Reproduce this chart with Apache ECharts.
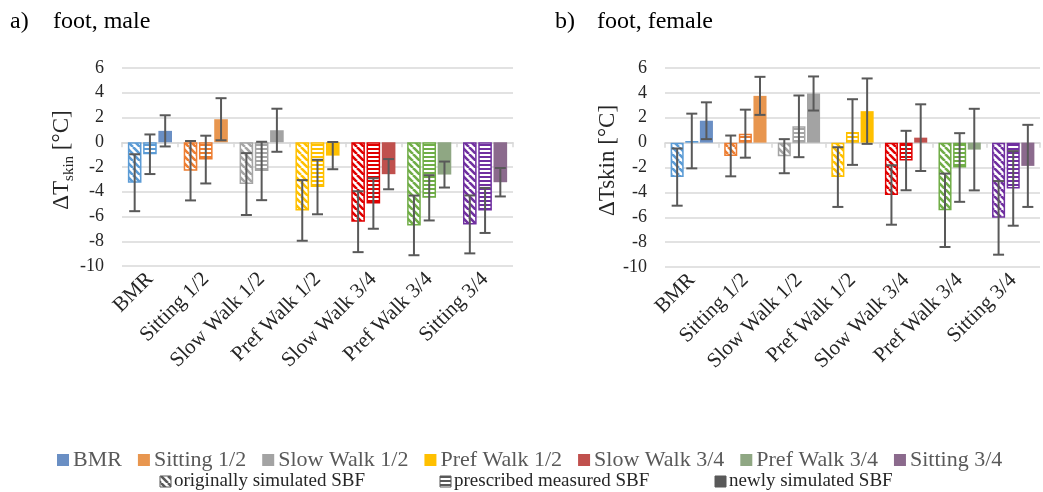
<!DOCTYPE html>
<html>
<head>
<meta charset="utf-8">
<script src="https://cdn.jsdelivr.net/npm/echarts@6/dist/echarts.min.js"></script>
<style>
  html, body { margin: 0; padding: 0; background: #fff; }
  #main { width: 1043px; height: 492px; }
</style>
</head>
<body>
<div id="main"></div>
<script>
// categories and SBF variants
var categories = ['BMR', 'Sitting 1/2', 'Slow Walk 1/2', 'Pref Walk 1/2', 'Slow Walk 3/4', 'Pref Walk 3/4', 'Sitting 3/4'];
var sbfTypes = ['originally simulated SBF', 'prescribed measured SBF', 'newly simulated SBF'];

// a) foot, male  (mean and half error)
var maleOrig = [-3.27, -2.3, -3.38, -5.51, -6.42, -6.72, -6.64];
var maleOrigErr = [2.3, 2.4, 2.5, 2.45, 2.46, 2.41, 2.34];
var malePresc = [-0.97, -1.4, -2.32, -3.62, -4.95, -4.49, -5.51];
var malePrescErr = [1.6, 1.93, 2.36, 2.2, 2.04, 1.83, 1.82];
var maleNew = [0.92, 1.86, 0.97, -1.08, -2.58, -2.61, -3.23];
var maleNewErr = [1.26, 1.7, 1.74, 1.1, 1.22, 1.05, 1.15];

// b) foot, female
var femaleOrig = [-2.77, -1.07, -1.09, -2.77, -4.21, -5.44, -6.05];
var femaleOrigErr = [2.3, 1.64, 1.37, 2.4, 2.39, 2.95, 2.96];
var femalePresc = [0.13, 0.72, 1.31, 0.85, -1.44, -2.0, -3.68];
var femalePrescErr = [2.2, 1.93, 2.48, 2.64, 2.39, 2.76, 3.0];
var femaleNew = [1.76, 3.76, 3.95, 2.53, 0.4, -0.56, -1.87];
var femaleNewErr = [1.48, 1.53, 1.37, 2.63, 2.68, 3.28, 3.3];

var stripeColors = ['#5b9bd5', '#ed7d31', '#a5a5a5', '#ffc000', '#e00000', '#70ad47', '#7030a0'];
var solidColors = ['#6a8fc4', '#e8964f', '#a3a3a3', '#ffc000', '#c0504d', '#8fa783', '#8b6a8d'];

var FONT = '"Liberation Serif", "Times New Roman", serif';
var GAP_CAT = 0.21, GAP_BAR = 0.12;

function tile(color, kind) {
    var c = document.createElement('canvas');
    var ctx;
    if (kind == 'diag') {
        c.width = 7; c.height = 7;
        ctx = c.getContext('2d');
        ctx.fillStyle = '#fff';
        ctx.fillRect(0, 0, 7, 7);
        ctx.strokeStyle = color;
        ctx.lineWidth = 2.6;
        ctx.beginPath();
        [-7, 0, 7].forEach(function (k) {
            ctx.moveTo(k, 0);
            ctx.lineTo(k + 7, 7);
        });
        ctx.stroke();
    } else {
        c.width = 4; c.height = 4;
        ctx = c.getContext('2d');
        ctx.fillStyle = '#fff';
        ctx.fillRect(0, 0, 4, 4);
        ctx.fillStyle = color;
        ctx.fillRect(0, 0, 4, 2);
    }
    return c;
}

function barData(values, kind) {
    return values.map(function (v, i) {
        if (kind == 'solid') {
            return { value: v, itemStyle: { color: solidColors[i] } };
        }
        return {
            value: v,
            itemStyle: {
                color: { image: tile(stripeColors[i], kind), repeat: 'repeat' },
                borderColor: stripeColors[i],
                borderWidth: 1.5
            }
        };
    });
}

function errData(values, errs) {
    return values.map(function (v, i) {
        return [i, v - errs[i], v + errs[i]];
    });
}

function errSeries(values, errs, slot, xi, yi) {
    return {
        type: 'custom',
        xAxisIndex: xi,
        yAxisIndex: yi,
        z: 10,
        data: errData(values, errs),
        renderItem: function (params, api) {
            var w = api.size([1, 0])[0];
            var b = w * (1 - GAP_CAT) / (3 + 2 * GAP_BAR);
            var off = (slot - 1) * b * (1 + GAP_BAR);
            var top = api.coord([api.value(0), api.value(2)]);
            var bot = api.coord([api.value(0), api.value(1)]);
            var x = top[0] + off;
            var h = 5.5;
            var st = { stroke: '#595959', lineWidth: 2 };
            return {
                type: 'group',
                children: [
                    { type: 'line', shape: { x1: x, y1: top[1], x2: x, y2: bot[1] }, style: st },
                    { type: 'line', shape: { x1: x - h, y1: top[1], x2: x + h, y2: top[1] }, style: st },
                    { type: 'line', shape: { x1: x - h, y1: bot[1], x2: x + h, y2: bot[1] }, style: st }
                ]
            };
        }
    };
}

function panelSeries(orig, origErr, presc, prescErr, nw, nwErr, xi, yi) {
    var base = { type: 'bar', xAxisIndex: xi, yAxisIndex: yi, barCategoryGap: '21%', barGap: '12%' };
    return [
        Object.assign({ name: sbfTypes[0], data: barData(orig, 'diag') }, base),
        Object.assign({ name: sbfTypes[1], data: barData(presc, 'horiz') }, base),
        Object.assign({ name: sbfTypes[2], data: barData(nw, 'solid') }, base),
        errSeries(orig, origErr, 0, xi, yi),
        errSeries(presc, prescErr, 1, xi, yi),
        errSeries(nw, nwErr, 2, xi, yi)
    ];
}

function zeroAxis(g) {
    return {
        type: 'category', gridIndex: g, data: categories,
        axisLine: { onZero: true, lineStyle: { color: '#d9d9d9', width: 1.5 } },
        axisTick: { show: true, length: 5, interval: 0, lineStyle: { color: '#d9d9d9', width: 1.5 } },
        axisLabel: { show: false },
        splitLine: { show: false }
    };
}

function labelAxis(g) {
    return {
        type: 'category', gridIndex: g, data: categories, position: 'bottom',
        axisLine: { show: false, onZero: false },
        axisTick: { show: false },
        axisLabel: { interval: 0, rotate: 45, margin: 10, fontSize: 21, color: '#262626', fontFamily: FONT }
    };
}

function valueAxis(g, name, gap) {
    return {
        type: 'value', gridIndex: g, min: -10, max: 6, interval: 2,
        name: name, nameLocation: 'middle', nameRotate: 90, nameGap: gap,
        nameTextStyle: {
            fontSize: 23, color: '#262626', fontFamily: FONT, padding: [0, 0, 0, 14],
            rich: { t: { fontSize: 23, fontFamily: FONT, color: '#262626' },
                    s: { fontSize: 15, fontFamily: FONT, color: '#262626', padding: [13, 0, 0, 0] } }
        },
        axisLine: { show: false },
        axisTick: { show: false },
        axisLabel: { fontSize: 18, color: '#262626', fontFamily: FONT, margin: 18 },
        splitLine: { lineStyle: { color: '#d9d9d9', width: 1.5 } }
    };
}

// legend built from graphic elements
function measure(text, size) {
    var ctx = document.createElement('canvas').getContext('2d');
    ctx.font = size + 'px ' + FONT;
    return ctx.measureText(text).width;
}

var graphics = [
    { type: 'text', left: 10, top: 10, style: { text: 'a)', font: '24px ' + FONT, fill: '#000' } },
    { type: 'text', left: 53, top: 10, style: { text: 'foot, male', font: '24px ' + FONT, fill: '#000' } },
    { type: 'text', left: 555, top: 10, style: { text: 'b)', font: '24px ' + FONT, fill: '#000' } },
    { type: 'text', left: 597, top: 10, style: { text: 'foot, female', font: '24px ' + FONT, fill: '#000' } }
];

var lx = 57;
categories.forEach(function (c, i) {
    graphics.push({ type: 'rect', shape: { x: lx, y: 454, width: 12, height: 12 }, style: { fill: solidColors[i] } });
    graphics.push({ type: 'text', x: lx + 16, y: 460, style: { text: c, font: '22px ' + FONT, fill: '#595959', textVerticalAlign: 'middle' } });
    lx += 16 + measure(c, 22) + 16;
});

var iconX = [160, 440, 715];
sbfTypes.forEach(function (t, i) {
    var fill = '#595959';
    if (i == 0) fill = { image: tile('#595959', 'diag'), repeat: 'repeat' };
    if (i == 1) fill = { image: tile('#595959', 'horiz'), repeat: 'repeat' };
    graphics.push({ type: 'rect', shape: { x: iconX[i], y: 476, width: 11, height: 11 }, style: { fill: fill, stroke: '#595959', lineWidth: 1 } });
    graphics.push({ type: 'text', x: iconX[i] + 14, y: 481, style: { text: t, font: '19px ' + FONT, fill: '#262626', textVerticalAlign: 'middle' } });
});

var chart = echarts.init(document.getElementById('main'));

var option = {
    animation: false,
    grid: [
        { left: 122, top: 68, width: 391, height: 198 },
        { left: 665, top: 68, width: 375, height: 199 }
    ],
    xAxis: [zeroAxis(0), labelAxis(0), zeroAxis(1), labelAxis(1)],
    yAxis: [
        valueAxis(0, '{t|ΔT}{s|skin}{t| [°C]}', 40),
        valueAxis(1, 'ΔTskin [°C]', 37)
    ],
    series: panelSeries(maleOrig, maleOrigErr, malePresc, malePrescErr, maleNew, maleNewErr, 0, 0)
        .concat(panelSeries(femaleOrig, femaleOrigErr, femalePresc, femalePrescErr, femaleNew, femaleNewErr, 2, 1)),
    graphic: graphics
};

chart.setOption(option);
</script>
</body>
</html>
